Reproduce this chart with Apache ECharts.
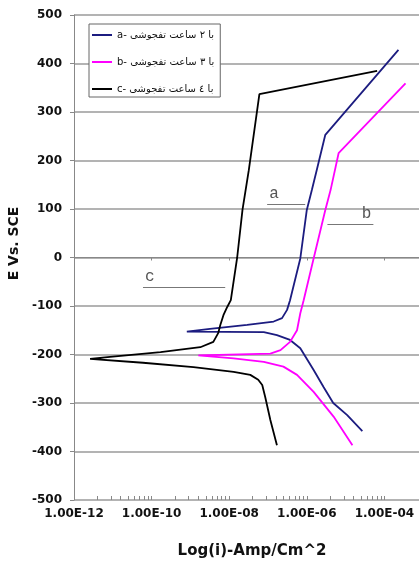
<!DOCTYPE html>
<html>
<head>
<meta charset="utf-8">
<script src="https://cdn.jsdelivr.net/npm/echarts@6/dist/echarts.min.js"></script>
<style>
  html, body { margin: 0; padding: 0; background: #fff; }
  #chart { width: 419px; height: 562px; }
</style>
</head>
<body>
<div id="chart"></div>
<script>
// Polarization curves: current density (A/cm^2) vs potential (mV vs. SCE)
const seriesNames = [
  'a- با ۲ ساعت تفجوشی',
  'b- با ۳ ساعت تفجوشی',
  'c- با ٤ ساعت تفجوشی'
];

// a: 2 h — cathodic branch (from the far end to E_corr), then anodic branch
const currentA = [2.7e-5, 1.1e-5, 4.8e-6, 2.7e-6, 1.5e-6, 6.8e-7, 3.7e-7, 1.7e-7, 7.8e-8, 8.1e-10,
                  3.2e-9, 2.9e-8, 1.4e-7, 2.3e-7, 3.1e-7, 3.7e-7, 6.8e-7, 1.0e-6, 1.35e-6, 1.8e-6, 3.0e-6, 2.3e-4];
const potentialA = [-358, -325, -300, -267, -232, -187, -170, -160, -154, -153,
                    -147, -139, -132, -125, -108, -88, -2, 98, 139, 180, 253, 428];

// b: 3 h
const currentB = [1.5e-5, 4.9e-6, 1.5e-6, 5.6e-7, 2.5e-7, 7.8e-8, 1.3e-8, 1.6e-9,
                  1.15e-7, 2.1e-7, 3.7e-7, 5.6e-7, 6.8e-7, 8.3e-7, 1.5e-6, 3.0e-6, 4.1e-6, 6.6e-6, 3.5e-4];
const potentialB = [-387, -328, -277, -242, -225, -215, -208, -202,
                    -198, -191, -174, -150, -115, -88, -2, 98, 139, 215, 359];

// c: 4 h
const currentC = [1.7e-7, 1.15e-7, 8.5e-8, 7.1e-8, 5.6e-8, 3.5e-8, 1.3e-8, 1.2e-9, 6.0e-11, 2.6e-12,
                  8.5e-12, 1.7e-10, 1.8e-9, 3.9e-9, 5.2e-9, 5.9e-9, 7.1e-9, 8.9e-9, 1.1e-8, 1.6e-8, 2.2e-8, 3.2e-8, 6.0e-8, 6.5e-5];
const potentialC = [-387, -335, -288, -263, -252, -242, -236, -226, -217, -209,
                    -205, -195, -185, -174, -156, -139, -119, -102, -88, -1, 98, 180, 337, 385];

// Letter callouts with their leader lines: [label, i start, i end, E]
const calloutA = ['a', 9.5e-8, 9.1e-7, 110];
const calloutB = ['b', 3.4e-6, 5.2e-5, 69];
const calloutC = ['c', 6.0e-11, 7.9e-9, -61];

const xMin = 1e-12, xMax = 1e-2;
const yMin = -500, yMax = 500, yStep = 100;

// Log-spaced minor ticks inside each two-decade step of the axis
const minorTicks = [];
[1e-12, 1e-10, 1e-8, 1e-6].forEach(function (base) {
  for (let k = 2; k <= 10; k++) minorTicks.push(base * k * k);
});

function pairUp(xs, ys) {
  return xs.map(function (x, i) { return [x, ys[i]]; });
}

function expLabel(v) {
  const e = Math.round(Math.log10(v));
  return '1.00E' + (e < 0 ? '-' : '+') + String(Math.abs(e)).padStart(2, '0');
}

const tickFont = { fontFamily: 'DejaVu Sans', fontWeight: 'bold', fontSize: 12, color: '#111' };
const titleFont = { fontFamily: 'DejaVu Sans', fontWeight: 'bold', fontSize: 14, color: '#111' };

function callout(c, pos) {
  return {
    silent: true,
    symbol: ['none', 'none'],
    lineStyle: { color: '#777', width: 1, type: 'solid' },
    label: {
      show: true,
      formatter: c[0],
      position: pos,
      distance: 2,
      fontFamily: 'Liberation Mono',
      fontSize: 16,
      color: '#555'
    },
    emphasis: { disabled: true },
    data: [[{ coord: [c[1], c[3]] }, { coord: [c[2], c[3]] }]]
  };
}

const colors = ['#1c1c80', '#ff00ff', '#000000'];

function curve(idx, xs, ys, mark) {
  return {
    name: seriesNames[idx],
    type: 'line',
    xAxisIndex: 0,
    yAxisIndex: 0,
    data: pairUp(xs, ys),
    showSymbol: false,
    symbol: 'none',
    lineStyle: { color: colors[idx], width: 1.8 },
    itemStyle: { color: colors[idx] },
    emphasis: { disabled: true },
    markLine: mark
  };
}

const chart = echarts.init(document.getElementById('chart'), null, { renderer: 'canvas' });

chart.setOption({
  animation: false,
  backgroundColor: '#fff',
  grid: { left: 74, top: 15, right: -43, bottom: 62, containLabel: false, outerBoundsMode: 'none' },
  legend: {
    orient: 'vertical',
    left: 89,
    top: 24,
    data: seriesNames,
    icon: 'path://M0,4 L20,4 L20,6 L0,6 Z',
    itemWidth: 20,
    itemHeight: 10,
    itemGap: 17,
    padding: [6, 6, 3, 3],
    backgroundColor: '#fff',
    borderColor: '#666',
    borderWidth: 1,
    borderRadius: 0,
    selectedMode: false,
    textStyle: { fontFamily: 'DejaVu Sans', fontSize: 10, color: '#111' }
  },
  xAxis: [
    {
      type: 'log',
      logBase: 100,
      min: xMin,
      max: xMax,
      position: 'bottom',
      axisLine: { lineStyle: { color: '#888', width: 1 } },
      axisTick: { show: true, inside: false, length: 3, lineStyle: { color: '#888' } },
      axisLabel: Object.assign({ formatter: expLabel, margin: 8, showMaxLabel: false }, tickFont),
      splitLine: { show: false },
      name: 'Log(i)-Amp/Cm^2',
      nameLocation: 'middle',
      nameGap: 44,
      nameTextStyle: Object.assign({ padding: [0, 32, 0, 0] }, titleFont, { fontSize: 15 })
    },
    {
      type: 'log',
      logBase: 100,
      min: xMin,
      max: xMax,
      position: 'bottom',
      axisLine: { show: false },
      axisLabel: { show: false },
      splitLine: { show: false },
      axisTick: { show: true, inside: true, length: 4, customValues: minorTicks, lineStyle: { color: '#888' } }
    }
  ],
  yAxis: [
    {
      type: 'value',
      min: yMin,
      max: yMax,
      interval: yStep,
      axisLine: { show: true, lineStyle: { color: '#888', width: 1 } },
      axisTick: { show: true, inside: false, length: 4, lineStyle: { color: '#888' } },
      axisLabel: Object.assign({ margin: 12 }, tickFont),
      splitLine: { show: true, lineStyle: { color: '#9a9a9a', width: 1.5 } },
      name: 'E Vs. SCE',
      nameLocation: 'middle',
      nameRotate: 90,
      nameGap: 50,
      nameTextStyle: Object.assign({ padding: [0, 0, 0, 28] }, titleFont)
    }
  ],
  series: [
    curve(0, currentA, potentialA, callout(calloutA, 'insideStartTop')),
    curve(1, currentB, potentialB, callout(calloutB, 'insideEndTop')),
    curve(2, currentC, potentialC, callout(calloutC, 'insideStartTop'))
  ]
});
</script>
</body>
</html>
